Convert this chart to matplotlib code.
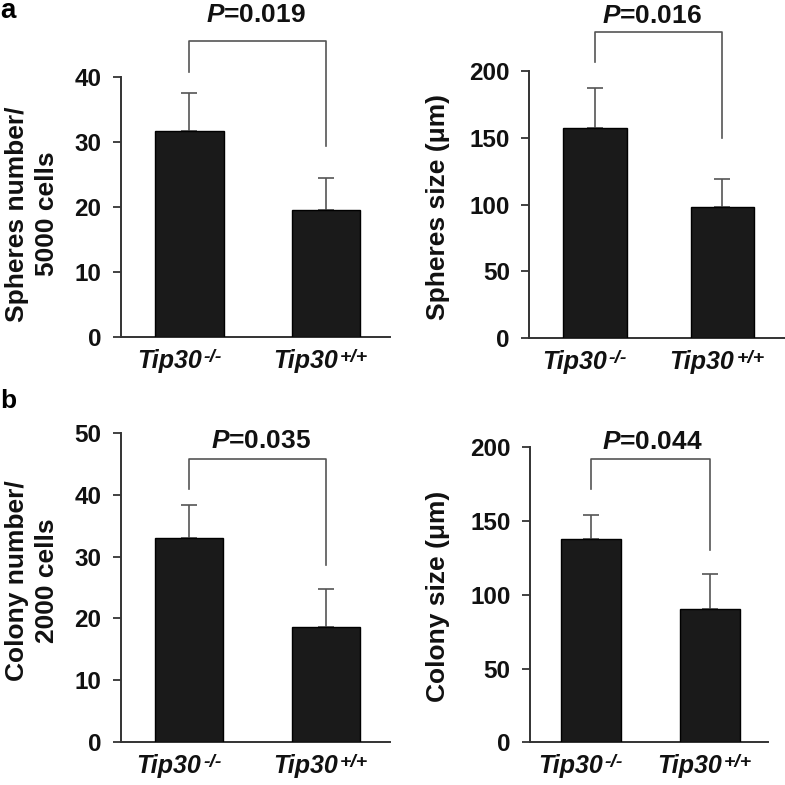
import matplotlib
matplotlib.use("Agg")
import matplotlib.pyplot as plt
import matplotlib.transforms as mtransforms

plt.rcParams['font.family'] = ['Liberation Sans', 'DejaVu Sans']
plt.rcParams['font.weight'] = 'bold'
plt.rcParams['mathtext.fontset'] = 'custom'
plt.rcParams['mathtext.it'] = 'Liberation Sans:italic:bold'
plt.rcParams['mathtext.rm'] = 'Liberation Sans:bold'
plt.rcParams['mathtext.bf'] = 'Liberation Sans:bold'

# ---------------- data ----------------
categories = ['Tip30', 'Tip30']
genotypes = ['-/-', '+/+']

sph_num = [31.6, 19.6]
sph_num_err = [5.9, 4.9]
sph_size = [157.2, 98.1]
sph_size_err = [30.4, 20.9]
col_num = [33.1, 18.6]
col_num_err = [5.3, 6.1]
col_size = [137.6, 90.2]
col_size_err = [16.5, 23.9]

p_values = ['0.019', '0.016', '0.035', '0.044']
ylabels = ['Spheres number/\n5000 cells', 'Spheres size (\u03bcm)',
           'Colony number/\n2000 cells', 'Colony size (\u03bcm)']
yticks = [[0, 10, 20, 30, 40], [0, 50, 100, 150, 200],
          [0, 10, 20, 30, 40, 50], [0, 50, 100, 150, 200]]

# ---------------- layout (pixels) ----------------
W = H = 785.0
fig = plt.figure(figsize=(7.85, 7.85), dpi=100)

def add_ax(l, r, t, b):
    return fig.add_axes([l / W, 1 - b / H, (r - l) / W, (b - t) / H])

panels = [
    dict(box=(120.7, 390, 76.7, 337.3), vals=sph_num, errs=sph_num_err, ylim=40,
         xlim=(-0.504, 1.469), bw=0.505, br=(45.5, 40.7, 29.4), ptxt=(0.487, 48.4),
         ylab_x=32, ylab_y=214),
    dict(box=(529.3, 785, 71, 338.3), vals=sph_size, errs=sph_size_err, ylim=200,
         xlim=(-0.513, 1.49), bw=0.50, br=(229, 207, 150), ptxt=(0.447, 236.2),
         ylab_x=438.3, ylab_y=206.5),
    dict(box=(120.7, 390, 433.3, 741.7), vals=col_num, errs=col_num_err, ylim=50,
         xlim=(-0.5, 1.47), bw=0.5, br=(45.8, 40.9, 28.6), ptxt=(0.527, 47.6),
         ylab_x=32, ylab_y=581),
    dict(box=(530, 768.3, 447.3, 742.3), vals=col_size, errs=col_size_err, ylim=200,
         xlim=(-0.51, 1.49), bw=0.505, br=(191.9, 171.5, 130.4), ptxt=(0.518, 198.6),
         ylab_x=438.3, ylab_y=596.5),
]

axis_col = '#333333'
txt_col = '#111111'
for i, p in enumerate(panels):
    ax = add_ax(*p['box'])
    x = [0, 1]
    ax.bar(x, p['vals'], width=p['bw'], color='#1a1a1a', edgecolor='black',
           linewidth=1.0, zorder=3)
    ax.errorbar(x, p['vals'], yerr=[[0, 0], p['errs']], fmt='none',
                ecolor='#555555', elinewidth=1.2, capsize=6, capthick=1.2, zorder=2)
    ax.set_xlim(*p['xlim'])
    ax.set_ylim(0, p['ylim'])
    ax.set_yticks(yticks[i])
    ax.set_xticks(x)
    ax.set_xticklabels([])
    ax.tick_params(axis='x', length=0)
    ax.tick_params(axis='y', length=6, width=1.3, pad=8, labelsize=17.5,
                   color=axis_col, labelcolor=txt_col)
    for s in ['top', 'right']:
        ax.spines[s].set_visible(False)
    for s in ['left', 'bottom']:
        ax.spines[s].set_color(axis_col)
        ax.spines[s].set_linewidth(1.4)
    # category labels with superscript genotype
    trans = mtransforms.blended_transform_factory(ax.transData, ax.transAxes)
    for xi, cat, gen in zip(x, categories, genotypes):
        tr = mtransforms.offset_copy(trans, fig=fig, x=12, y=-12, units='dots')
        t = ax.text(xi, 0, cat, transform=tr, ha='right', va='top', fontsize=18,
                    style='italic', fontweight='bold', color=txt_col)
        ax.annotate(gen, xy=(1, 1), xycoords=t, xytext=(1.5, 0),
                    textcoords='offset points', ha='left', va='top',
                    fontsize=14, style='italic', fontweight='bold', color=txt_col)
    # bracket
    top, l_end, r_end = p['br']
    ax.plot([0, 0, 1, 1], [l_end, top, top, r_end], color='#555555', lw=1.2,
            clip_on=False, zorder=4)
    ax.text(p['ptxt'][0], p['ptxt'][1], r'$\mathit{P}$=' + p_values[i],
            ha='center', va='baseline', fontsize=19, fontweight='bold',
            color=txt_col, clip_on=False)
    fig.text(p['ylab_x'] / W, 1 - p['ylab_y'] / H, ylabels[i], rotation=90,
             ha='center', va='center', fontsize=19, fontweight='bold',
             linespacing=1.32, color=txt_col)

fig.text(0 / W, 1 - 18 / H, 'a', fontsize=20, fontweight='bold', ha='left', va='baseline')
fig.text(0 / W, 1 - 408 / H, 'b', fontsize=19, fontweight='bold', ha='left', va='baseline')

fig.savefig('out.png', dpi=100, facecolor='white')
